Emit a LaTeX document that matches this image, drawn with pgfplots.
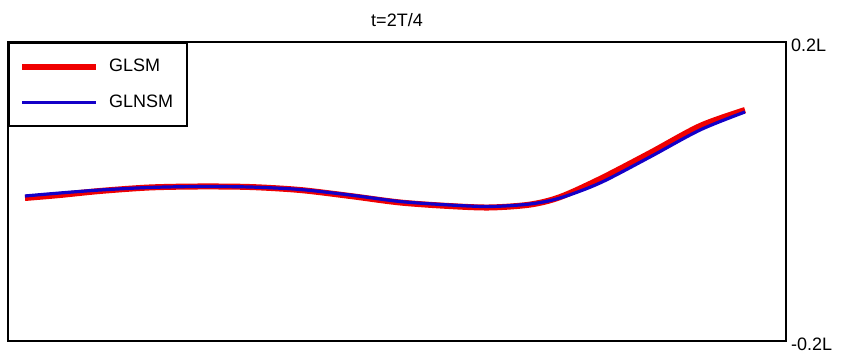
\documentclass[border=0pt]{standalone}
\usepackage{pgfplots}
\pgfplotsset{compat=1.18}
\usepackage{fontspec}
\setmainfont{Liberation Sans}
\definecolor{cred}{RGB}{240,0,0}
\definecolor{cblue}{RGB}{20,0,200}
\begin{document}
\begin{tikzpicture}
\begin{axis}[
  scale only axis,
  width=389pt, height=149.5pt,
  xmin=0, xmax=1, ymin=-0.2, ymax=0.2,
  axis line style={line width=1.4pt},
  xtick=\empty,
  ytick={-0.2,0.2},
  yticklabels={-0.2L,0.2L},
  yticklabel pos=right,
  major tick length=0pt,
  yticklabel style={font=\fontsize{9}{10}\selectfont, anchor=west, xshift=-1pt, yshift=-1.5pt},
  title={t=2T/4},
  title style={font=\fontsize{9}{10}\selectfont, yshift=-2pt},
  /pgf/number format/assume math mode=true,
  legend style={at={(0,1)}, anchor=north west, draw=black, line width=1pt,
    font=\fontsize{9}{10}\selectfont, inner xsep=5pt, inner ysep=6pt,
    row sep=6pt, cells={anchor=west}},
  legend image code/.code={\draw[#1] (0pt,0pt) -- (37pt,0pt); \path (40pt,0pt);},
  legend cell align=left,
]
\addplot[cred, line width=3pt, smooth] coordinates {
(0.0219,-0.0087) (0.0668,-0.0047) (0.1183,0.0007) (0.1825,0.0054) (0.2468,0.0067)
(0.3111,0.0060) (0.3753,0.0020) (0.4396,-0.0060) (0.5039,-0.0147) (0.5681,-0.0195)
(0.6195,-0.0214) (0.6710,-0.0175) (0.7095,-0.0075) (0.7609,0.0167) (0.8252,0.0515)
(0.8895,0.0876) (0.9473,0.1090)};
\addlegendentry{GLSM\hspace{10pt}}
\addplot[cblue, line width=1.6pt, smooth] coordinates {
(0.0219,-0.0060) (0.0668,-0.0020) (0.1183,0.0020) (0.1825,0.0054) (0.2468,0.0067)
(0.3111,0.0060) (0.3753,0.0027) (0.4396,-0.0047) (0.5039,-0.0134) (0.5681,-0.0181)
(0.6195,-0.0201) (0.6710,-0.0167) (0.7095,-0.0087) (0.7609,0.0114) (0.8252,0.0462)
(0.8895,0.0823) (0.9473,0.1064)};
\addlegendentry{GLNSM}
\end{axis}
\pgfresetboundingbox
\useasboundingbox ([xshift=-4pt,yshift=-8.5pt]current axis.south west) rectangle ([xshift=29pt,yshift=21pt]current axis.north east);
\end{tikzpicture}
\end{document}
